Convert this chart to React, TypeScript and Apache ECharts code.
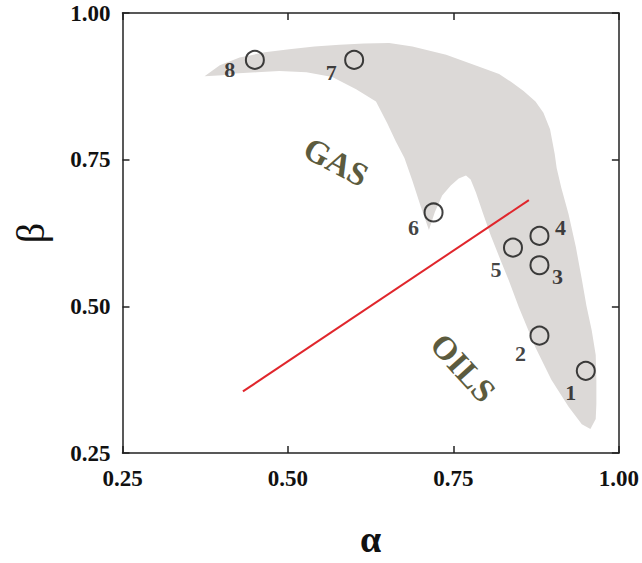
import React, { useEffect, useRef } from "react";
import * as echarts from "echarts";

// Sample points (α, β)
const POINT_NAMES = ["1", "2", "3", "4", "5", "6", "7", "8"];
const POINT_ALPHA = [0.95, 0.88, 0.88, 0.88, 0.84, 0.72, 0.6, 0.45];
const POINT_BETA = [0.39, 0.45, 0.57, 0.62, 0.6, 0.66, 0.92, 0.92];

// Red reference line
const LINE_ALPHA = [0.432, 0.864];
const LINE_BETA = [0.355, 0.681];

// Grey field outline (α, β)
const FIELD_ALPHA = [
  0.374, 0.397, 0.427, 0.465, 0.502, 0.54, 0.578, 0.615, 0.653, 0.688, 0.739, 0.788, 0.819, 0.838,
  0.856, 0.874, 0.886, 0.896, 0.903, 0.906, 0.913, 0.924, 0.935, 0.944, 0.951, 0.959, 0.965, 0.966,
  0.966, 0.965, 0.957, 0.944, 0.924, 0.898, 0.874, 0.849, 0.834, 0.819, 0.806, 0.794, 0.784, 0.776,
  0.769, 0.758, 0.746, 0.733, 0.722, 0.713, 0.701, 0.688, 0.676, 0.663, 0.65, 0.633, 0.603, 0.567,
  0.528, 0.487, 0.453, 0.419, 0.401,
];
const FIELD_BETA = [
  0.892, 0.911, 0.924, 0.933, 0.938, 0.943, 0.946, 0.948, 0.949, 0.943, 0.929, 0.909, 0.896, 0.882,
  0.867, 0.849, 0.83, 0.802, 0.76, 0.736, 0.702, 0.657, 0.601, 0.546, 0.501, 0.459, 0.417, 0.375,
  0.333, 0.308, 0.291, 0.299, 0.329, 0.375, 0.43, 0.498, 0.543, 0.585, 0.622, 0.661, 0.694, 0.716,
  0.723, 0.718, 0.706, 0.689, 0.661, 0.63, 0.669, 0.714, 0.753, 0.781, 0.812, 0.849, 0.87, 0.891,
  0.899, 0.901, 0.899, 0.897, 0.894,
];

const AXIS_MIN = 0.25;
const AXIS_MAX = 1.0;
const AXIS_STEP = 0.25;

// label offsets (styling) for point numbers, in px relative to circle centre
const LABEL_OFFSETS: Record<string, [number, number]> = {
  "1": [-15, 22],
  "2": [-19, 18],
  "3": [18, 11],
  "4": [21, -8],
  "5": [-17, 22],
  "6": [-20, 15],
  "7": [-23, 13],
  "8": [-25, 10],
};

const SERIF = '"Liberation Serif", "Times New Roman", serif';

export default function App() {
  const ref = useRef<HTMLDivElement>(null);

  useEffect(() => {
    document.body.style.margin = "0";
    if (!ref.current) return;
    const chart = echarts.init(ref.current, undefined, { renderer: "svg" });

    const axisCommon = {
      type: "value" as const,
      min: AXIS_MIN,
      max: AXIS_MAX,
      interval: AXIS_STEP,
      splitLine: { show: false },
      axisLine: { show: true, lineStyle: { color: "#222", width: 1.5 } },
      axisTick: { show: true, inside: true, length: 7, lineStyle: { color: "#222", width: 1.5 } },
    };

    const labelStyle = {
      fontFamily: SERIF,
      fontWeight: "bold" as const,
      fontSize: 23,
      color: "#111",
      formatter: (v: number) => v.toFixed(2),
    };

    const outline = FIELD_ALPHA.map((a, i) => [a, FIELD_BETA[i]]);

    const option: any = {
      animation: false,
      backgroundColor: "#ffffff",
      grid: { left: 122.5, right: 22, top: 13, bottom: 102.5 },
      xAxis: [
        {
          ...axisCommon,
          position: "bottom",
          axisLabel: { ...labelStyle, margin: 14 },
          name: "α",
          nameLocation: "middle",
          nameGap: 72,
          nameTextStyle: { fontFamily: SERIF, fontWeight: "bold", fontSize: 38, lineHeight: 28, color: "#111" },
        },
        {
          ...axisCommon,
          position: "top",
          axisLabel: { show: false },
        },
      ],
      yAxis: [
        {
          ...axisCommon,
          position: "left",
          axisLabel: { ...labelStyle, margin: 12 },
          name: "β",
          nameLocation: "middle",
          nameGap: 72,
          nameTextStyle: { fontFamily: SERIF, fontSize: 40, color: "#111" },
        },
        {
          ...axisCommon,
          position: "right",
          axisLabel: { show: false },
        },
      ],
      series: [
        {
          type: "custom",
          xAxisIndex: 0,
          yAxisIndex: 0,
          silent: true,
          z: 1,
          data: [[outline[0][0], outline[0][1]]],
          renderItem: (_params: any, api: any) => {
            const pts = outline.map((p) => api.coord(p));
            return {
              type: "polygon",
              shape: { points: pts, smooth: 0 },
              style: { fill: "#dcd9d7", stroke: "none" },
            };
          },
        },
        {
          type: "line",
          xAxisIndex: 0,
          yAxisIndex: 0,
          z: 3,
          showSymbol: false,
          data: LINE_ALPHA.map((a, i) => [a, LINE_BETA[i]]),
          lineStyle: { color: "#e0262c", width: 2 },
        },
        {
          type: "scatter",
          xAxisIndex: 0,
          yAxisIndex: 0,
          z: 4,
          symbol: "circle",
          symbolSize: 18,
          itemStyle: { color: "rgba(0,0,0,0)", borderColor: "#111", borderWidth: 2 },
          label: {
            show: true,
            position: "inside",
            formatter: "{b}",
            fontFamily: SERIF,
            fontWeight: "bold",
            fontSize: 22,
            color: "#111",
          },
          data: POINT_NAMES.map((n, i) => ({
            name: n,
            value: [POINT_ALPHA[i], POINT_BETA[i]],
            label: { offset: LABEL_OFFSETS[n] },
          })),
        },
      ],
      graphic: [
        {
          type: "text",
          x: 336,
          y: 162,
          rotation: (-28 * Math.PI) / 180,
          z: 10,
          style: {
            text: "GAS",
            fontFamily: SERIF,
            fontWeight: "bold",
            fontSize: 33,
            fill: "#5c5b3e",
            textAlign: "center",
            textVerticalAlign: "middle",
          },
        },
        {
          type: "text",
          x: 463,
          y: 368,
          rotation: (-48 * Math.PI) / 180,
          z: 10,
          style: {
            text: "OILS",
            fontFamily: SERIF,
            fontWeight: "bold",
            fontSize: 33,
            fill: "#5c5b3e",
            textAlign: "center",
            textVerticalAlign: "middle",
          },
        },
      ],
    };

    chart.setOption(option);
    return () => chart.dispose();
  }, []);

  return <div ref={ref} style={{ width: 642, height: 563 }} />;
}
